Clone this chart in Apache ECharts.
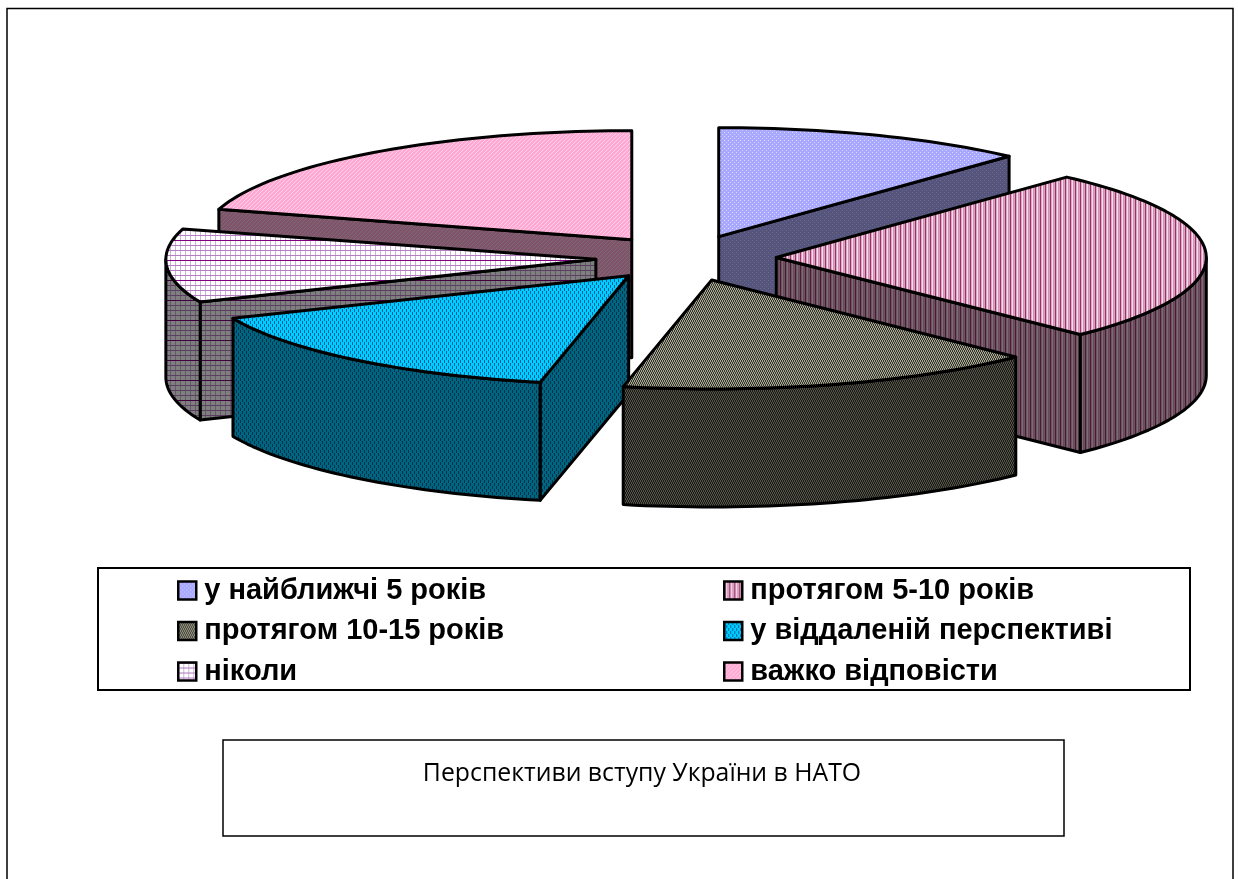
<!DOCTYPE html>
<html><head><meta charset="utf-8">
<style>html,body{margin:0;padding:0;background:#fff}#c{width:1238px;height:879px}</style>
<script src="https://cdn.jsdelivr.net/npm/echarts@6/dist/echarts.min.js"></script>
</head><body><div id="c"></div>
<script>
const categories = ['у найближчі 5 років','протягом 5-10 років','протягом 10-15 років','у віддаленій перспективі','ніколи','важко відповісти'];
const values = [11.8, 25.7, 15.8, 15.3, 10.9, 20.5];
const leftLegend = [categories[0], categories[2], categories[4]];
const rightLegend = [categories[1], categories[3], categories[5]];
const titleText = 'Перспективи вступу України в НАТО';
const drawOrder = [5, 0, 4, 1, 3, 2];

const CX = 686, CY = 258, RX = 430, RY = 109, DEPTH = 118, EXPLODE = 0.21, LW = 3;

function tile(w, h, fn, shade) {
  const c = document.createElement('canvas'); c.width = w; c.height = h;
  const g = c.getContext('2d');
  for (let y = 0; y < h; y++) for (let x = 0; x < w; x++) { g.fillStyle = fn(x, y); g.fillRect(x, y, 1, 1); }
  if (shade) { g.fillStyle = 'rgba(0,0,0,0.5)'; g.fillRect(0, 0, w, h); }
  return { image: c, repeat: 'repeat' };
}
const painters = [
  [4, 4, (x, y) => (x === 0 && y === 0) ? '#dcdcff' : (x === 2 && y === 2) ? '#d0d0ff' : '#a8a8ff'],
  [5, 2, (x, y) => ['#993366', '#dca6c4', '#f7dbe9', '#cf93b3', '#d8a2c0'][x]],
  [4, 4, (x, y) => ((x + (y % 4 < 2 ? 0 : 1)) % 2 === 0) ? '#a8a88c' : '#333333'],
  [4, 6, (x, y) => ((x === 0 && y < 3) || (x === 2 && y >= 3)) ? '#00609a' : '#00ccff'],
  [5, 20, (x, y) => y === 0 ? '#800080' : y % 5 === 0 ? '#b47fc0' : x === 0 ? '#cdb2d8' : '#ffffff'],
  [4, 4, (x, y) => ((x + y) % 4 === 0) ? '#ffd2e8' : '#ffa8d4']
];
const topFill = painters.map(p => tile(p[0], p[1], p[2], false));
const sideFill = painters.map(p => tile(p[0], p[1], p[2], true));

const total = values.reduce((a, b) => a + b, 0);
function sliceAngles(i) {
  let s = 0;
  for (let k = 0; k < i; k++) s += values[k];
  return [s / total * 360, (s + values[i]) / total * 360];
}
const rad = d => d * Math.PI / 180;

function makeRender(i) {
  return function () {
    const [a0, a1] = sliceAngles(i);
    const mid = rad((a0 + a1) / 2);
    const ax = CX + Math.sin(mid) * RX * EXPLODE;
    const ay = CY - Math.cos(mid) * RY * EXPLODE;
    const pt = (d, dz) => [ax + Math.sin(rad(d)) * RX, ay - Math.cos(rad(d)) * RY + (dz || 0)];
    const arc = (from, to, dz) => {
      const n = Math.max(2, Math.ceil((to - from) / 1.5)), out = [];
      for (let k = 0; k <= n; k++) out.push(pt(from + (to - from) * k / n, dz));
      return out;
    };
    const stroke = { stroke: '#000', lineWidth: LW, lineJoin: 'round' };
    const children = [];
    const face = pts => children.push({ type: 'polygon', silent: true, shape: { points: pts }, style: Object.assign({ fill: sideFill[i] }, stroke) });
    const cut = d => face([[ax, ay], pt(d), pt(d, DEPTH), [ax, ay + DEPTH]]);
    if (Math.sin(rad(a0)) < 0) cut(a0);
    if (Math.sin(rad(a1)) > 0) cut(a1);
    const f = Math.max(a0, 90), t = Math.min(a1, 270);
    if (t > f) face(arc(f, t, 0).concat(arc(f, t, DEPTH).reverse()));
    children.push({ type: 'polygon', silent: true, shape: { points: [[ax, ay]].concat(arc(a0, a1, 0)) }, style: Object.assign({ fill: topFill[i] }, stroke) });
    return { type: 'group', children };
  };
}

const legendBase = {
  orient: 'vertical', icon: 'rect', itemWidth: 18, itemHeight: 18, itemGap: 11.5, padding: 0, selectedMode: false,
  textStyle: { fontFamily: 'Liberation Sans', fontWeight: 'bold', fontSize: 29, color: '#000', padding: [0, 0, 0, 3], lineHeight: 28 }
};
const legendItems = names => names.map(n => {
  const i = categories.indexOf(n);
  return { name: n, itemStyle: { color: topFill[i], borderColor: '#000', borderWidth: 2.5 } };
});

const chart = echarts.init(document.getElementById('c'), null, { renderer: 'canvas' });
chart.setOption({
  animation: false,
  backgroundColor: '#fff',
  title: { text: titleText, top: 761, padding: 0, textAlign: 'center', left: 642,
    textStyle: { fontFamily: 'Open Sans', fontWeight: 'normal', fontSize: 24.8, color: '#000' } },
  legend: [
    Object.assign({}, legendBase, { left: 177, top: 576, data: legendItems(leftLegend) }),
    Object.assign({}, legendBase, { left: 723, top: 576, data: legendItems(rightLegend) })
  ],
  graphic: [
    { type: 'rect', silent: true, z: -1, shape: { x: 7, y: 8.5, width: 1226, height: 900 }, style: { fill: '#fff', stroke: '#000', lineWidth: 1.5 } },
    { type: 'rect', silent: true, z: 0, shape: { x: 98, y: 568, width: 1092, height: 122 }, style: { fill: '#fff', stroke: '#000', lineWidth: 2 } },
    { type: 'rect', silent: true, z: 0, shape: { x: 223, y: 740, width: 841, height: 96 }, style: { fill: '#fff', stroke: '#000', lineWidth: 1.5 } }
  ],
  series: categories.map((name, i) => ({
    type: 'custom', name, coordinateSystem: 'none', silent: true,
    z: 2 + drawOrder.indexOf(i),
    itemStyle: { color: topFill[i], borderColor: '#000', borderWidth: 2 },
    data: [values[i]],
    renderItem: makeRender(i)
  }))
});
</script></body></html>
